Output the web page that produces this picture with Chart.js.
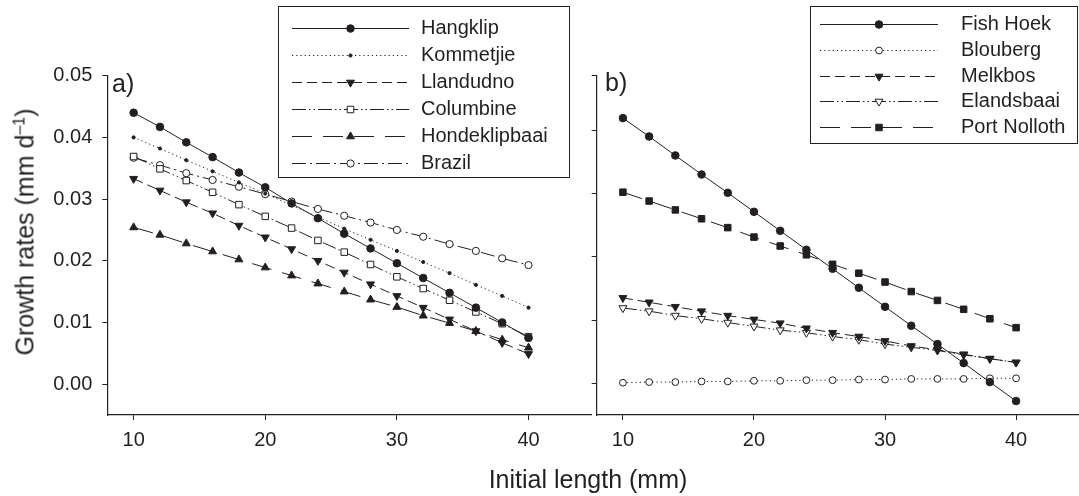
<!DOCTYPE html>
<html>
<head>
<meta charset="utf-8">
<script src="https://cdn.jsdelivr.net/npm/chart.js@4.4.0/dist/chart.umd.min.js"></script>
<style>
  body { margin: 0; background: #fff; }
  #wrap { position: relative; width: 1079px; height: 496px; overflow: hidden; font-family: "Liberation Sans", Arial, sans-serif; color: #231f20; }
  #panelA { position: absolute; left: 0; top: 0; width: 594px; height: 496px; }
  #panelB { position: absolute; left: 580px; top: 0; width: 499px; height: 496px; }
  .lbl { position: absolute; line-height: 1; white-space: nowrap; }
  .lbl sup { font-size: 16px; vertical-align: 9px; line-height: 0; }
</style>
</head>
<body>
<div id="wrap">
  <canvas id="panelA" width="594" height="496"></canvas>
  <canvas id="panelB" width="499" height="496"></canvas>
  <div class="lbl" style="left:25px; top:232px; font-size:25px; transform:translate(-50%,-50%) rotate(-90deg);">Growth rates (mm d<sup>–1</sup>)</div>
  <div class="lbl" style="left:588px; top:479px; font-size:25px; transform:translate(-50%,-50%);">Initial length (mm)</div>
  <div class="lbl" style="left:112px; top:83px; font-size:25px; transform:translateY(-50%);">a)</div>
  <div class="lbl" style="left:605px; top:82px; font-size:25px; transform:translateY(-50%);">b)</div>
</div>
<script>
// === DATA ===
const lengths = [10, 12, 14, 16, 18, 20, 22, 24, 26, 28, 30, 32, 34, 36, 38, 40];
const xTicks = [10, 20, 30, 40];
const yTicksA = [0, 0.01, 0.02, 0.03, 0.04, 0.05];
const yTicksB = [0, 0.01, 0.02, 0.03, 0.04, 0.0486];

// panel a
const hangklip = [0.0440, 0.0417, 0.0392, 0.0368, 0.0343, 0.0319, 0.0293, 0.0269, 0.0244, 0.0220, 0.0196, 0.0172, 0.0148, 0.0124, 0.0100, 0.0075];
const kommetjie = [0.0400, 0.0382, 0.0363, 0.0345, 0.0327, 0.0309, 0.0290, 0.0271, 0.0252, 0.0234, 0.0216, 0.0198, 0.0180, 0.0161, 0.0143, 0.0124];
const llandudno = [0.0333, 0.0314, 0.0295, 0.0277, 0.0257, 0.0238, 0.0219, 0.0200, 0.0181, 0.0162, 0.0143, 0.0124, 0.0105, 0.0086, 0.0067, 0.0049];
const columbine = [0.0369, 0.0349, 0.0330, 0.0311, 0.0291, 0.0272, 0.0253, 0.0233, 0.0214, 0.0194, 0.0174, 0.0155, 0.0136, 0.0117, 0.0098, 0.0077];
const hondeklipbaai = [0.0254, 0.0242, 0.0228, 0.0215, 0.0202, 0.0189, 0.0176, 0.0163, 0.0150, 0.0137, 0.0125, 0.0111, 0.0099, 0.0086, 0.0072, 0.0059];
const brazil = [0.0367, 0.0355, 0.0342, 0.0331, 0.0320, 0.0308, 0.0296, 0.0284, 0.0273, 0.0262, 0.0250, 0.0239, 0.0227, 0.0216, 0.0204, 0.0193];

// panel b
const fishHoek = [0.0419, 0.0390, 0.0360, 0.0330, 0.0301, 0.0271, 0.0241, 0.0211, 0.0181, 0.0151, 0.0121, 0.0091, 0.0062, 0.0032, 0.0002, -0.0028];
const blouberg = [0.0001, 0.0002, 0.0002, 0.0003, 0.0003, 0.0004, 0.0004, 0.0005, 0.0005, 0.0006, 0.0006, 0.0007, 0.0007, 0.0007, 0.0008, 0.0008];
const melkbos = [0.0135, 0.0128, 0.0121, 0.0114, 0.0107, 0.0101, 0.0095, 0.0087, 0.0080, 0.0074, 0.0067, 0.0059, 0.0053, 0.0046, 0.0039, 0.0033];
const elandsbaai = [0.0119, 0.0114, 0.0107, 0.0102, 0.0096, 0.0090, 0.0084, 0.0080, 0.0074, 0.0069, 0.0062, 0.0057, 0.0052, 0.0045, 0.0039, 0.0033];
const portNolloth = [0.0302, 0.0288, 0.0274, 0.0260, 0.0246, 0.0231, 0.0217, 0.0203, 0.0188, 0.0174, 0.0160, 0.0145, 0.0131, 0.0117, 0.0102, 0.0088];

// === Styles ===
const INK = "#231f20";
const FONT = '"Liberation Sans", Arial, sans-serif';

const SOLID = [];
const DOTTED = [1.2, 3];
const DASHED = [10, 5];
const DASH_DOT_DOT = [14, 3, 1.5, 3, 1.5, 3];
const LONG_DASH = [20, 11];
const DASH_DOT = [14, 4, 2, 4];

function series(label, values, dash, style, filled, radius, rotation) {
	return {
		label: label,
		data: values.map((v, i) => ({ x: lengths[i], y: v })),
		borderColor: INK,
		borderWidth: 1,
		borderDash: dash,
		tension: 0,
		pointStyle: style,
		pointRadius: radius,
		pointRotation: rotation || 0,
		pointBorderWidth: 1,
		pointBorderColor: INK,
		pointBackgroundColor: filled ? INK : "#fff",
	};
}

// === Legend box drawn inside the chart ===
const legendBox = {
	id: "legendBox",
	afterDraw(chart, args, o) {
		const ctx = chart.ctx;
		ctx.save();
		ctx.strokeStyle = INK;
		ctx.lineWidth = 1;
		ctx.setLineDash([]);
		ctx.strokeRect(o.left + 0.5, o.top + 0.5, o.right - o.left, o.bottom - o.top);

		chart.data.datasets.forEach((ds, i) => {
			const y = Math.round(o.firstRow + i * o.rowStep) + 0.5;
			ctx.strokeStyle = INK;
			ctx.lineWidth = 1;
			ctx.setLineDash(ds.borderDash);
			ctx.beginPath();
			ctx.moveTo(o.lineFrom, y);
			ctx.lineTo(o.lineTo, y);
			ctx.stroke();
			ctx.setLineDash([]);

			ctx.fillStyle = ds.pointBackgroundColor;
			ctx.strokeStyle = ds.pointBorderColor;
			Chart.helpers.drawPoint(
				ctx,
				{ pointStyle: ds.pointStyle, rotation: ds.pointRotation, radius: ds.pointRadius, borderWidth: 1 },
				(o.lineFrom + o.lineTo) / 2,
				y
			);

			ctx.fillStyle = INK;
			ctx.font = "20px " + FONT;
			ctx.textBaseline = "middle";
			ctx.textAlign = "left";
			ctx.fillText(ds.label, o.textX, y);
		});
		ctx.restore();
	},
};

function xAxis() {
	return {
		type: "linear",
		min: 8,
		max: 44.8,
		afterBuildTicks: (s) => { s.ticks = xTicks.map((v) => ({ value: v })); },
		afterFit: (s) => { s.height = 81; },
		border: { display: true, color: INK, width: 1.2 },
		grid: { drawOnChartArea: false, drawTicks: true, tickLength: 5, color: INK },
		ticks: { color: INK, font: { family: FONT, size: 20 }, padding: 8, maxRotation: 0 },
	};
}

function yAxis(ticks, max, width, showLabels) {
	return {
		type: "linear",
		min: -0.005,
		max: max,
		afterBuildTicks: (s) => { s.ticks = ticks.map((v) => ({ value: v })); },
		afterFit: (s) => { s.width = width; },
		border: { display: true, color: INK, width: 1.2 },
		grid: { drawOnChartArea: false, drawTicks: true, tickLength: 5, color: INK },
		ticks: {
			display: showLabels,
			color: INK,
			font: { family: FONT, size: 20 },
			padding: 10,
			callback: (v) => v.toFixed(2),
		},
	};
}

function baseOptions(legendOpts, scales, padRight) {
	return {
		responsive: false,
		animation: false,
		layout: { padding: { top: 75.7, right: padRight, left: 0, bottom: 0 }, autoPadding: false },
		plugins: { legend: { display: false }, tooltip: { enabled: false }, legendBox: legendOpts },
		scales: scales,
	};
}

// === Panel a ===
new Chart(document.getElementById("panelA"), {
	type: "line",
	data: {
		datasets: [
			series("Hangklip", hangklip, SOLID, "circle", true, 3.8),
			series("Kommetjie", kommetjie, DOTTED, "circle", true, 1.6),
			series("Llandudno", llandudno, DASHED, "triangle", true, 4.6, 180),
			series("Columbine", columbine, DASH_DOT_DOT, "rect", false, 4.6),
			series("Hondeklipbaai", hondeklipbaai, LONG_DASH, "triangle", true, 4.6),
			series("Brazil", brazil, DASH_DOT, "circle", false, 3.6),
		],
	},
	options: baseOptions(
		{ left: 278, top: 6, right: 569, bottom: 177, firstRow: 28, rowStep: 27, lineFrom: 292, lineTo: 409, textX: 421 },
		{ x: xAxis(), y: yAxis(yTicksA, 0.05, 107.3, true) },
		2.3
	),
	plugins: [legendBox],
});

// === Panel b ===
new Chart(document.getElementById("panelB"), {
	type: "line",
	data: {
		datasets: [
			series("Fish Hoek", fishHoek, SOLID, "circle", true, 3.8),
			series("Blouberg", blouberg, DOTTED, "circle", false, 3.4),
			series("Melkbos", melkbos, DASHED, "triangle", true, 4.6, 180),
			series("Elandsbaai", elandsbaai, DASH_DOT_DOT, "triangle", false, 4.6, 180),
			series("Port Nolloth", portNolloth, LONG_DASH, "rect", true, 4.6),
		],
	},
	options: baseOptions(
		{ left: 230, top: 6, right: 497, bottom: 143, firstRow: 24, rowStep: 25.8, lineFrom: 240, lineTo: 358, textX: 381 },
		{ x: xAxis(), y: yAxis(yTicksB, 0.0486, 16.7, false) },
		0
	),
	plugins: [legendBox],
});
</script>
</body>
</html>
